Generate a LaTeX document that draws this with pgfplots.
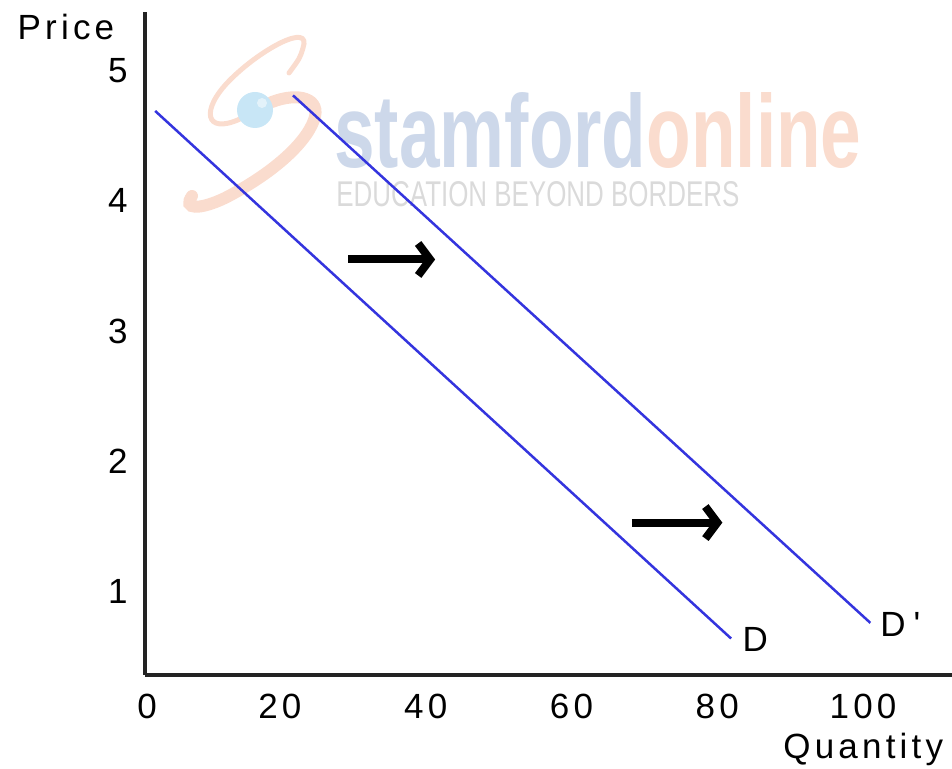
\documentclass[border=0pt]{standalone}
\usepackage{pgfplots}
\pgfplotsset{compat=1.18}
\usepackage{graphicx}
\usepackage{fontspec}
\setmainfont{Liberation Sans}
\newfontfamily\spaced[LetterSpace=12]{Liberation Sans}
\usetikzlibrary{arrows.meta}

\definecolor{curve}{RGB}{52,52,222}
\definecolor{wmblue}{RGB}{205,216,234}
\definecolor{wmpeach}{RGB}{250,220,206}
\definecolor{wmgray}{RGB}{218,218,218}
\definecolor{wmball}{RGB}{200,230,246}
\definecolor{axisgray}{RGB}{35,35,35}

\begin{document}
\begin{tikzpicture}
% watermark, drawn first so the chart sits on top (units: reference pixels)
\begin{scope}[shift={(-72.5pt,337.5pt)}, x=0.5pt, y=-0.5pt]
  \draw[wmpeach, line width=2.5pt, line cap=round]
    (240,119) .. controls (205,135) and (200,110) .. (230,80)
    .. controls (262,48) and (312,22) .. (303,48) .. controls (300,58) .. (289,73);
  \draw[wmpeach, line width=6pt, line cap=round]
    (272,102) .. controls (298,92) and (322,98) .. (314,120)
    .. controls (305,145) and (270,175) .. (225,198)
    .. controls (200,210) and (182,210) .. (192,196);
  \fill[wmball] (255,110) circle[radius=18];
  \fill[white, opacity=0.5] (262,103) circle[radius=5];
  \node[anchor=base west, inner sep=0pt] at (334,168)
    {\resizebox{263.5pt}{37.5pt}{\bfseries\textcolor{wmblue}{stamford}\textcolor{wmpeach}{online}}};
  \node[anchor=base west, inner sep=0pt, text=wmgray] at (336,207)
    {\resizebox{201.5pt}{12.5pt}{EDUCATION BEYOND BORDERS}};
\end{scope}

\begin{axis}[
  scale only axis,
  width=403.5pt, height=331.5pt,
  xmin=1.5, xmax=112.2,
  ymin=0.36, ymax=5.45,
  axis lines=left,
  axis line style={-, line width=2pt, axisgray},
  major tick length=0pt,
  xtick={1.8,20,40,60,80,100},
  xticklabels={0,20,40,60,80,100},
  ytick={1,2,3,4,5},
  /pgf/number format/assume math mode=true,
  tick label style={font=\fontsize{17.5}{20}\selectfont\spaced, inner sep=0pt},
  xticklabel style={anchor=north, yshift=-9.5pt},
  yticklabel style={anchor=east, xshift=-8.5pt},
  clip=false,
]
  % demand curves
  \addplot[curve, line width=1.25pt] coordinates {(2.9,4.69) (81.9,0.64)};
  \addplot[curve, line width=1.25pt] coordinates {(21.8,4.81) (101.0,0.76)};

  % shift arrows
  \addplot[black, line width=4pt, -{Straight Barb[length=6pt,width=16pt]}]
    coordinates {(29.4,3.55) (41.3,3.55)};
  \addplot[black, line width=4pt, -{Straight Barb[length=6pt,width=16pt]}]
    coordinates {(68.3,1.53) (80.7,1.53)};

  \node[font=\fontsize{17.5}{20}\selectfont\spaced] at (axis cs:85.2,0.63) {D};
  \node[font=\fontsize{17.5}{20}\selectfont\spaced] at (axis cs:105.1,0.745) {D\hspace{4pt}\textquotesingle};

  \node[font=\fontsize{17.5}{20}\selectfont\spaced] at (axis description cs:-0.098,0.977) {Price};
  \node[font=\fontsize{17.5}{20}\selectfont\spaced] at (axis description cs:0.89,-0.113) {Quantity};
\end{axis}
\pgfresetboundingbox
\path[use as bounding box] (-72.5pt,-47pt) rectangle (403.5pt,337.5pt);
\end{tikzpicture}
\end{document}
